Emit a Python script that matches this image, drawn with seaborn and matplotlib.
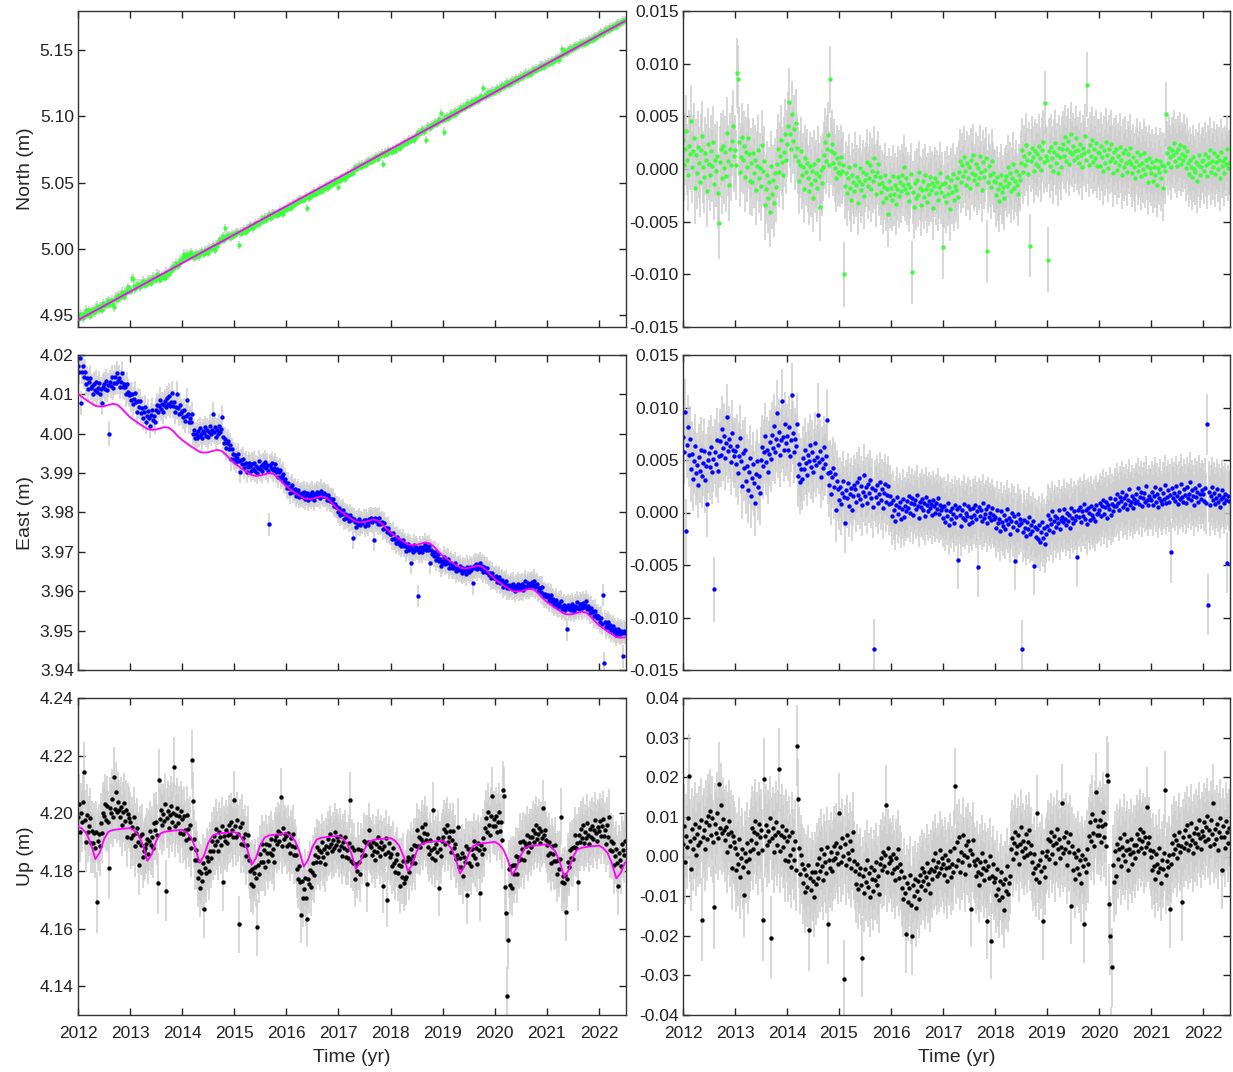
import numpy as np
import matplotlib
matplotlib.use("Agg")
import matplotlib.pyplot as plt
from matplotlib.ticker import FormatStrFormatter, MultipleLocator
import seaborn as sns

# ---------------------------------------------------------------
# Weekly position residuals (mm), 2012.0 ... 2022.5 (52 per year)
# ---------------------------------------------------------------
north_res_mm = [
    # 2012
    2.8, 0.4, 1.9, 3.6, 0.9, -0.6, 2.2, 1.4, 4.6, 0.2, 1.7, 2.9, -1.8,
    1.3, -0.4, 2.1, 0.6, -1.2, 1.8, 3.1, 0.2, -0.8, 1.5, 0.9, -2.1, 2.4, 0.5,
    -0.6, 1.7, 0.3, 2.6, -1.4, 0.9, -0.2, 1.2, -2.3, -5.1, 0.7, 1.9, -0.9,
    2.2, 0.1, 1.6, -0.7, 3.4, 0.8, -1.5, 1.9, 0.4, 2.7, 4.1, 1.2,
    # 2013
    1.8, 0.4, 9.1, 8.5, 2.6, -0.3, 1.1, 3.0, 0.9, 2.2, -0.8, 1.6, 0.2, 2.9, 1.4, -1.1,
    0.6, -1.2, 1.5, -0.4, 0.9, -2.0, 0.3, 1.8, -0.9, 0.1, -1.6, 2.3, -0.2, 0.8, -3.4,
    -1.9, -0.6, -2.8, -1.2, -4.1, 0.3, -2.4, -1.0, -3.2, -0.4, -1.7,
    0.5, 1.9, -0.3, 1.2, 2.8, 0.7, -0.6, 1.6, 3.3, 0.9,
    # 2014
    2.4, 4.1, 6.4, 3.3, 1.9, 5.2, 2.7, 3.8, 1.2, 4.4, 2.0,
    0.8, -1.1, 0.4, 1.7, -0.6, 0.2, -1.9, 1.0, -0.3, 0.6,
    -0.9, -2.1, 0.3, -1.4, -0.2, -2.8, 0.5, -1.0, -0.4, -1.8, 0.9, -0.7, -3.6, -0.1, -1.3, 0.2,
    1.3, 2.6, 0.8, 1.9, 3.2, 0.4, 8.5, 1.7, 2.4, 0.6, 1.5,
    0.1, -0.9, 1.0, -0.3,
    # 2015
    0.6, -0.5, 1.1, -0.2, 0.4, -10.0,
    -1.6, -0.4, -2.3, -0.9, 0.2, -1.8, -2.9, -0.6, -1.2, -2.1, 0.4, -1.5, -0.8, -3.2, -1.1,
    0.1, -2.0, -1.4, -0.3, -2.6, -1.0,
    -0.5, 0.7, -1.6, -0.9, 0.4, -1.9, -0.2, -1.1, 1.0, -0.7, -2.4, -0.3, 0.5, -1.4, -0.8,
    -2.2, -1.3, -3.1, -1.7, -0.6, -2.8, -1.9, -4.3, -1.1, -2.5,
    # 2016
    -1.8, -2.9, -0.7, -2.4, -1.5, -3.3, -1.9, -0.8, -2.6, -1.2, -2.1,
    -0.6, -1.5, 0.2, -1.9, -0.9,
    -2.3, -1.4, -3.0, -1.7, -0.5, -9.8, -2.2, -3.6, -1.3, -2.8, -1.0, -2.5, -0.3, -1.8,
    -3.4, -2.0, -1.1, -2.7, -0.6, -1.9, -3.1, -1.5, -2.4, -0.8, -2.0, -1.3, -3.7, -1.6,
    -0.9, -2.3, -1.2, -2.9, -1.7, -0.4, -2.2, -1.4,
    # 2017
    -7.4, -2.6, -1.3, -3.1, -0.8, -2.4, -1.7, -3.8, -1.0, -2.2, -0.5, -2.9, -1.6, -2.0, -0.9, -2.7,
    -0.3, 0.8, -1.2, 0.4, -0.7, 1.1, -0.2, -1.5, 0.6, -0.9, 0.2, -1.8, 0.9, -0.4, 1.3, -1.0,
    -0.6, 0.5, -1.4, 0.1, -0.9, 1.2, -0.3, -2.0, 0.7, -0.8, -0.1, 1.0, -7.8, -1.2, 0.3, -0.6,
    -1.7, 0.8, -0.4, -1.1,
    # 2018
    -1.2, -2.5, -0.8, -1.9, -3.0, -1.4, -0.6, -2.2, -1.7, -2.8, -1.0,
    -0.7, -1.6, 0.2, -1.3, -0.4, -2.1, -0.9, 0.5, -1.8, -1.1, -0.2, -1.5, -2.4, -0.6, -1.0,
    0.6, 1.8, -0.3, 1.2, 0.4, 2.3, 0.9, -0.5, 1.5, -7.3, 0.8, 2.0, 1.1, -0.2, 1.7, 0.5,
    1.4, 0.3, 2.2, 1.0, -0.1, 1.8, 2.6, 0.7, 6.3, 1.2,
    # 2019
    0.9, -8.6, 1.7, 0.3, 2.1, 1.0, -0.2, 1.6, 2.5, 0.6, 1.3, -0.4, 2.0, 1.1, 0.2, 1.9,
    2.4, 1.2, 3.0, 0.8, 1.9, 2.7, 0.5, 1.6, 3.3, 1.4, 2.2, 0.9, 1.7, 2.9, 1.1,
    1.8, 0.6, 2.4, 1.3, 0.2, 2.0, 1.5, 3.1, 0.9, 8.0, 1.7, 0.4, 2.3, 1.2, 2.8, 0.7,
    1.9, 1.0, 2.5, 0.3, 1.6,
    # 2020
    1.5, 0.3, 2.2, 1.1, -0.2, 1.8, 0.6, 2.6, 1.3, 0.1, 1.9, 0.8, 2.4, 1.0, -0.4, 1.6,
    0.7, 1.9, -0.1, 1.2, 0.4, 2.1, 0.9, -0.6, 1.5, 0.2, 1.8, 0.6, -0.3, 1.4, 0.8, 2.0,
    0.5, -0.4, 1.1, 0.2, -0.9, 0.8, 1.6, -0.2, 0.4, 1.3, -0.7, 0.6, 0.0, 1.5, -0.5, 0.9,
    0.3, -1.2, 1.0, 0.1,
    # 2021
    -0.4, 0.7, -1.1, 0.2, -0.6, 0.9, -1.5, 0.1, -0.3, 0.8, -0.9, 0.4, -1.8, 0.3, -0.2, 5.2,
    1.5, 0.6, 2.0, 1.1, 0.2, 1.8, 1.3, 2.5, 0.8, 1.6, 0.3, 1.9, 1.0, 2.3, 0.5, 1.4, 0.9,
    2.1, 1.2, 0.1, 1.7,
    0.6, -0.5, 0.9, 0.2, -0.8, 1.1, 0.0, -0.3, 0.7, -1.1, 0.4, 1.3, -0.6, 0.2, 0.8,
    # 2022 (to mid-year)
    0.9, -0.2, 1.4, 0.4, -0.7, 1.1, 0.6, 1.8, -0.3, 0.8, 0.2, 1.5, -0.5, 0.7, 1.2, 0.0,
    0.9, -0.9, 1.6, 0.3, 0.8, -0.4, 1.0, 0.5, 1.9, 0.1, 0.6,
]

east_res_mm = [
    # 2012
    7.2, 5.8, 9.6, -1.8, 6.4, 8.1, 5.5, 7.0,
    4.1, 5.6, 3.2, 4.9, 6.3, 3.8, 4.5, 2.6, 5.3, 4.0, 6.0, 3.5, 4.7, 5.9, 3.1, 4.4, 0.8, 5.0,
    5.7, 4.3, 6.2, 3.9, 5.1, -7.3, 5.8, 4.6, 6.9, 4.0, 5.4,
    6.8, 5.5, 8.0, 6.1, 7.3, 5.2, 6.6, 9.1, 5.9, 7.0, 6.3, 4.8, 7.6, 6.0, 5.4,
    # 2013
    5.9, 4.6, 6.3, 3.8, 5.4, 7.1, 4.9, 2.5, 5.7, 4.2, 6.0,
    3.0, 4.4, 2.1, 3.9, 5.2, 1.6, 3.3, 4.6, 2.8, 0.9, 3.7, 4.9, 2.4, 3.5, 1.9,
    5.0, 6.2, 4.4, 5.8, 7.3, 4.8, 6.0, 3.9, 5.6, 6.7, 5.1,
    7.4, 6.1, 8.2, 5.8, 7.0, 9.5, 6.4, 7.7, 5.5, 6.9, 10.6, 7.2, 6.0, 8.4, 6.6,
    # 2014
    7.3, 6.0, 8.1, 5.4, 6.9, 11.2, 7.6, 5.8, 7.0, 6.3, 8.4,
    3.5, 4.6, 2.9, 4.1, 3.2,
    5.2, 4.1, 6.0, 4.7, 3.6, 5.5, 4.9, 6.4, 4.3, 5.8, 3.9, 5.0, 6.6, 4.5, 5.3, 9.3,
    4.8, 5.9, 3.4, 5.1, 4.2, 6.2, 4.6, 5.4, 8.8, 3.8,
    2.6, 3.9, 1.8, 3.4, 4.2, 2.4, 3.7, 0.2, 3.0, 2.2,
    # 2015
    1.2, 2.4, 0.8, 1.9, 3.0, 1.5, -1.0, 2.1, 1.4, 2.8, 0.6, 1.8, 2.3, 0.2, 1.6, 2.6,
    2.2, 1.0, 2.9, 1.7, 3.3, 1.3, 2.5, 0.7, 2.0, 3.6, 1.6, 2.4, 0.9, 2.7, 1.9, 3.1,
    1.4, 2.3, 0.5, -13.0, 2.1,
    1.5, 2.6, 0.9, 1.8, 2.9, 1.2, 2.2, 0.4, 1.9, 2.7, 1.0, 1.7, 2.5, 0.8, 1.6,
    # 2016
    0.9, -0.3, 1.2, 0.2, -0.8, 0.7, 1.5, -0.1, 0.5, 1.0, -0.6, 0.3, 1.3, -0.4, 0.6, 0.1,
    1.1, 0.4, 1.6, 0.0, 0.9, 1.4, -0.2, 0.8, 1.2, 0.3, 1.7, 0.6, -0.5, 1.0, 0.5, 1.3,
    0.2, 0.9, -0.3, 1.5, 0.7, 0.1, 1.1, 0.4, 0.8, -0.2, 1.2, 0.6, 0.0, 0.9, 0.3, 1.4,
    -0.1, 0.7, 0.2, 0.5,
    # 2017
    -0.5, 0.6, -0.9, 0.2, -0.3, 0.9, -1.2, 0.1, -0.6, 0.4, -0.1, -1.0, 0.7, -0.4, 0.3, -4.5,
    0.5, -0.2, -1.3, 0.2, -0.5, 0.8, -0.7, 0.0, -0.3, 0.6, -1.1, 0.3, -0.4, -0.9, 0.4, -0.2,
    0.7, -0.6, 0.1, -5.2, 0.5, -0.3, 0.2, -0.8, 0.9, -0.5, -0.1, 0.3, -1.0, 0.6, -0.4, 0.0,
    -0.7, 0.4, -0.2, -0.6,
    # 2018
    -0.4, -1.5, 0.2, -1.0, -0.6, -1.8, 0.1, -0.9, -1.3, -0.2, -1.6, -0.7, 0.3, -1.1, -0.5, -2.0,
    -0.8, 0.0, -1.4, -0.3, -4.6, -0.9, -1.7, -0.1, -1.2, -0.6,
    -1.0, -13.0, -1.9, -0.7, -1.5, -2.2, -0.9, -1.6, -0.4, -2.0, -1.2, -1.8, -0.8, -5.1, -1.4, -2.3,
    -1.6, -2.5, -1.2, -2.8, -1.9, -0.9, -2.4, -1.5, -3.0, -2.0,
    # 2019
    -1.3, -0.2, -1.7, -0.6, -1.1, 0.1, -1.9, -0.8, -0.3, -1.4, -0.5, -1.0, 0.2, -1.6, -0.7, -0.4,
    -0.9, 0.3, -0.6, -1.2, 0.0, -0.8, -0.2, -1.5, 0.4, -0.5, -1.0, 0.1, -0.7, -0.3, -4.2, 0.2,
    -0.4, 0.5, -0.9, 0.1, -0.3, 0.8, -0.6, 0.2, -1.1, 0.4, 0.0, -0.7, 0.6, -0.2, -0.5, 0.3,
    -0.8, 0.7, -0.1, 0.0,
    # 2020
    0.2, 0.9, -0.3, 0.6, 1.2, -0.1, 0.5, 1.0, -0.5, 0.7, 0.3, 1.4, -0.2, 0.8, 0.1, 0.6,
    1.3, 0.6, 1.8, 0.9, 0.2, 1.5, 1.1, 2.0, 0.5, 1.4, 0.8, 1.7, 0.3, 1.2, 2.2, 0.7,
    1.0, 1.6, 0.4, 1.3, 0.9,
    1.8, 1.1, 2.3, 0.8, 1.5, 2.0, 0.6, 1.4, 1.9, 1.0, 2.5, 1.2, 0.7, 1.6, 1.3,
    # 2021
    1.2, 2.0, 0.7, 1.6, 2.4, 1.0, 1.8, 0.5, 1.4, 2.2, 1.1, 0.8, 1.9, 1.3, 2.6, 0.9,
    1.5, 2.1, 1.0, 1.7, -3.8, 2.3, 1.4, 1.9, 1.1, 2.5, 1.6, 0.8, 2.0, 1.3, 2.7, 1.5,
    1.0, 2.2, 1.7, 0.9, 2.4, 1.4, 1.8, 2.9, 1.2, 2.1, 1.6, 0.7, 2.3, 1.5, 2.0, 1.0,
    2.6, 1.8, 1.3, 2.1,
    # 2022 (to mid-year)
    1.8, 1.1, 2.3, 0.9, 8.4, -8.8, 2.0, 0.7, 1.6, 2.4, 1.2, 1.9, 0.8, 1.4, 2.2, 1.0,
    1.7, 0.5, 1.3, 2.1, 1.5, 0.9, 1.8, 1.2, -4.8, 1.6, 1.1,
]

up_res_mm = [
    # 2012
    3.1, 7.8, -1.5, 5.2, 2.4, 9.6, 20.3, 4.0, -3.2, 6.9, 1.8, 4.7, 8.3, 0.5, 5.6, 2.9,
    7.4, 3.6, 9.2, -15.9, 5.0, 6.8, 1.9, 8.7, 4.4, 10.3,
    7.9, 11.6, 5.3, 9.8, 3.7, -12.8, 8.1, 6.0, 10.9, 4.6, 18.4, 7.2, 13.0, 5.9, 9.4, 6.6,
    4.1, 7.5, 1.2, 5.8, 8.9, 2.7, 6.3, -3.0, 5.1, 3.6,
    # 2013
    2.1, -3.4, 0.6, -1.9, 4.5, -5.2, -0.3, 1.8, -2.7, -9.8, 0.9, -1.2, 3.3, -4.0, -0.6, 1.5,
    4.2, 7.3, 2.0, 6.1, 9.0, 3.5, 5.7, 0.8, 8.2, 4.9, 6.6, 1.6, -15.9, 19.5, 5.1, 7.9,
    2.8, 6.4, 3.9, 9.7, -20.5, 4.6, 7.1, 1.2, 5.5, 8.6,
    3.0, 6.2, 22.0, 1.4, 5.3, 7.8, 2.5, 4.9, -1.0, 6.6,
    # 2014
    3.8, -1.2, 5.1, 0.4, -2.7, 6.2, 1.9, -0.8, 4.0, -3.5, 28.0, 14.5, 2.2, -4.4, 0.3, -1.9,
    -6.8, -3.1, -9.0, -4.6, -7.7, -2.2, -18.6, -5.5, -8.4, -3.9, -6.1, -10.2, -4.0, -7.0, -1.8, -5.3,
    -0.4, -3.7, 1.8, -2.5, -5.9, 0.6, -1.3, -4.1, 2.4, -17.0, -0.9, -2.8, 1.1, -3.6, -1.0,
    2.6, -0.5, 3.4, 0.9, -1.8,
    # 2015
    11.0, 2.3, -1.4, 4.6, 0.2, -31.0, 3.1, -2.2, 5.4, 0.9, -0.7, 3.8, -3.0, 1.6, 6.2, -1.1,
    -3.6, -6.9, -1.8, -8.2, -4.4, -2.9, -7.3, -25.5, -5.0, -9.1, -3.2, -6.4, -0.9, -7.8, -4.1, -10.3,
    -2.6, -5.7, -8.6, -3.4, -6.0, -1.5, -7.1, -4.8, -9.4, -2.0,
    -0.5, -3.3, 1.2, -2.4, 0.3, 13.0, -4.0, 2.1, -1.7, -0.2,
    # 2016
    -1.0, -4.2, 0.6, -3.1, -6.0, -0.4, -2.7, 1.9, -5.3, -1.8, -3.6,
    -7.9, -10.6, -5.2, -9.3, -19.5, -6.8, -11.4, -8.0, -4.7, -12.2, -20.0, -7.1, -9.9, -5.8, -13.0,
    -8.6, -6.3, -10.8,
    -4.6, -7.5, -2.8, -6.2, -3.9, -8.4, -5.1, -1.7, -6.9, -4.0, -9.3, -3.2, -5.6, -0.8, -3.7, 0.9,
    -2.6, -5.0, -1.4, -4.2, 1.6, -2.9, -0.3,
    # 2017
    -1.8, -4.6, 0.4, -3.0, -6.2, -0.9, -2.7, 1.5, -5.1, -2.0, -3.8,
    2.1, 17.9, -2.4, 3.6, -0.8, 4.8, -3.9, 1.2, -1.5, 5.4, 0.3, -4.4, 2.8, -0.2, 3.9, -2.1,
    1.7, -13.3, 0.6, 4.2, -1.2,
    -2.2, -5.0, -0.6, -3.9, -7.1, -1.5, -4.3, 0.8, -2.8, -6.0, -1.1, -3.5, -16.2, -2.4, -5.4, 0.2,
    -21.3, -4.8, -1.8, -6.5,
    # 2018
    -5.4, -9.6, -3.2, -8.1, -11.0, -6.3, -4.0, -10.2, -7.0, -13.5, -5.8, -8.8, -2.5, -9.4, -6.6, -4.9,
    1.8, 4.7, -0.6, 3.5, 6.2, 0.9, 2.7, 5.3, -1.8, 3.1, 7.4, 1.4, 4.0, -0.2, 2.2, 5.8,
    0.5, 3.7, 6.6, 1.0, 2.9,
    -1.5, -4.2, 0.7, -3.0, -5.6, 11.0, -2.1, -6.4, -0.8, -3.7, 1.2, -16.4, -2.6, -5.2, 0.1,
    # 2019
    1.4, 4.5, -0.7, 3.8, 6.1, 0.6, 2.9, 5.2, -1.6, 3.3, 7.0, 1.9, 4.4, -0.3, 2.5, 13.5,
    0.8, 4.9, 2.0, 6.3, -2.2, 3.6, 1.1, 5.7, -12.4, 2.7,
    -3.3, 0.9, -5.6, -0.2, -2.8, 1.6, -4.5, -1.0, -6.7, 0.4, -2.3, -17.0, -0.6, -3.9, 1.9, -2.0,
    5.1, 8.6, 3.9, 10.8, 6.0, 2.7, 9.3, 16.2, 5.5, 7.8,
    # 2020
    5.4, 9.1, 3.7, 7.6, 11.2, 4.8, 8.3, 2.6, 20.5, 19.0,
    -12.0, -20.0, -48.0, -28.0, -2.1, -6.5, 1.4, -4.8,
    3.2, -0.7, 1.9, 4.6, -2.3, 2.5, 0.3, 5.8, -1.1, 1.6, 3.9, -3.4, 2.0, 0.6, 4.4, -1.8,
    1.2, 3.0, -0.4,
    2.9, 5.6, 1.4, 4.3, 7.0, 2.2, 3.8, 6.1, 0.8, 4.9, 2.4, 12.6, 3.5, 5.0, 1.7,
    # 2021
    -0.2, -3.5, 1.3, -2.4, -5.8, 0.6, -1.9, -4.0, 2.1, -2.9, -6.6, -0.8, -3.1, 1.0, 16.9, -4.7,
    -1.2, -2.6, 0.4, -13.2, -2.0,
    3.4, 0.7, 5.5, 1.8, 4.2, -0.5, 3.0, 6.3, 1.2, 2.6, -11.5,
    4.8, 2.1, 6.6, 3.5, 7.9, 1.6, 5.2, 3.0, 8.4, 4.1, 0.9, 6.0, 3.3, 7.2, 2.4, 5.7,
    9.1, 4.6, 1.8, 6.4,
    # 2022 (to mid-year)
    5.2, 8.7, 3.9, 7.4, 10.1, 4.5, 6.8, 2.6, 9.3, 5.8, 13.6, 3.1, 7.0, 4.4, 8.2, 1.7,
    6.3, 9.8, 4.9, -3.5, 7.6, 5.0, 2.2, 8.9, 6.1, 3.4, 7.3,
]

# Formal 1-sigma errors per calendar year 2012..2022 (mm)
north_sig_mm = [3.4, 3.3, 3.2, 3.1, 3.0, 3.0, 3.0, 3.1, 3.2, 3.1, 3.1]
east_sig_mm = [3.1, 3.1, 3.0, 2.9, 2.8, 2.8, 2.8, 2.9, 2.9, 2.9, 2.9]
up_sig_mm = [10.5, 10.5, 10.2, 10.0, 9.8, 9.6, 9.6, 9.8, 10.0, 9.8, 9.8]

# ---------------------------------------------------------------
# Fitted trajectory models
# ---------------------------------------------------------------
north_model_yr = [2012, 2013, 2014, 2015, 2016, 2017, 2018, 2019, 2020, 2021, 2022, 2022.5]
north_model_m = [4.9462, 4.9677, 4.9892, 5.0107, 5.0322, 5.0537, 5.0752,
                 5.0967, 5.1182, 5.1397, 5.1612, 5.1719]

# monthly, mm above 4.000 m
east_model_mm = [
    10.1, 9.3, 8.5, 7.8, 7.1, 6.9, 7.0, 7.3, 7.6, 7.4, 6.5, 5.3,
    4.2, 3.4, 2.6, 1.9, 1.2, 1.0, 1.1, 1.4, 1.7, 1.5, 0.6, -0.6,
    -1.6, -2.4, -3.2, -3.9, -4.6, -4.8, -4.7, -4.4, -4.1, -4.3, -5.2, -6.4,
    -7.5, -8.3, -9.1, -9.8, -10.5, -10.7, -10.6, -10.3, -10.0, -10.2, -11.1, -12.3,
    -13.4, -14.2, -15.0, -15.7, -16.4, -16.6, -16.5, -16.2, -15.9, -16.1, -17.0, -18.2,
    -19.3, -20.1, -20.9, -21.6, -22.3, -22.5, -22.4, -22.1, -21.8, -22.0, -22.9, -24.1,
    -25.1, -25.9, -26.7, -27.4, -28.1, -28.3, -28.2, -27.9, -27.6, -27.8, -28.7, -29.9,
    -31.0, -31.8, -32.6, -33.3, -34.0, -34.2, -34.1, -33.8, -33.5, -33.7, -34.6, -35.8,
    -36.9, -37.7, -38.5, -39.2, -39.9, -40.1, -40.0, -39.7, -39.4, -39.6, -40.5, -41.7,
    -42.7, -43.5, -44.3, -45.0, -45.7, -45.9, -45.8, -45.5, -45.2, -45.4, -46.3, -47.5,
    -48.6, -49.4, -50.2, -50.9, -51.6, -51.8, -51.7,
]

# monthly, mm relative to 4.190 m
up_model_mm = [
    5.5, 4.6, 2.9, -0.7, -5.9, -3.6, 1.0, 3.6, 4.2, 4.4, 4.6, 4.7,
    4.9, 4.0, 2.3, -1.3, -6.5, -4.2, 0.4, 3.0, 3.6, 3.8, 4.0, 4.1,
    4.3, 3.4, 1.7, -1.9, -7.2, -4.8, -0.3, 2.2, 2.9, 3.1, 3.2, 3.4,
    3.5, 2.7, 0.9, -2.6, -7.9, -5.5, -1.0, 1.6, 2.3, 2.5, 2.7, 2.8,
    3.0, 2.1, 0.4, -3.2, -8.5, -6.2, -1.7, 0.9, 1.5, 1.7, 1.9, 2.0,
    2.1, 1.2, -0.5, -4.1, -9.3, -7.0, -2.5, 0.1, 0.7, 1.0, 1.1, 1.3,
    1.4, 0.5, -1.3, -4.9, -10.1, -7.8, -3.3, -0.8, -0.2, 0.1, 0.2, 0.3,
    0.4, -0.4, -2.2, -5.7, -10.9, -8.5, -4.0, -1.4, -0.7, -0.4, -0.3, -0.1,
    0.1, -0.8, -2.6, -6.1, -11.4, -9.1, -4.6, -2.0, -1.4, -1.2, -1.1, -0.9,
    -0.8, -1.6, -3.4, -6.9, -12.1, -9.8, -5.2, -2.6, -2.0, -1.7, -1.5, -1.4,
    -1.2, -2.1, -3.8, -7.4, -12.6, -10.8, -7.0,
]

# ---------------------------------------------------------------
# Assemble series
# ---------------------------------------------------------------
t_week = 2012 + np.arange(len(north_res_mm)) / 52.0
t_month = 2012 + np.arange(len(east_model_mm)) / 12.0
year_idx = np.minimum((t_week - 2012).astype(int), 10)

res_n = np.array(north_res_mm) / 1000.0
res_e = np.array(east_res_mm) / 1000.0
res_u = np.array(up_res_mm) / 1000.0
sig_n = np.array(north_sig_mm)[year_idx] / 1000.0
sig_e = np.array(east_sig_mm)[year_idx] / 1000.0
sig_u = np.array(up_sig_mm)[year_idx] / 1000.0

east_model = 4.000 + np.array(east_model_mm) / 1000.0
up_model = 4.190 + np.array(up_model_mm) / 1000.0

obs_n = np.interp(t_week, north_model_yr, north_model_m) + res_n
obs_e = np.interp(t_week, t_month, east_model) + res_e
obs_u = np.interp(t_week, t_month, up_model) + res_u

# ---------------------------------------------------------------
# Styling
# ---------------------------------------------------------------
sns.set_theme(style="ticks")
plt.rcParams["font.family"] = ["Liberation Sans", "DejaVu Sans"]
plt.rcParams["axes.unicode_minus"] = False

GREEN = "#3cff3c"
BLUE = "#0000ff"
BLACK = "#000000"
MAGENTA = "#ff00ff"
BAR = "#cdcdcd"

W, H = 1233, 1072
fig = plt.figure(figsize=(W / 100, H / 100), dpi=100)

left_x, right_x = 78 / W, 683 / W
left_w, right_w = 548 / W, 547 / W
rows = [(11, 327), (355, 670), (698, 1015)]


def make_ax(x0, w, row):
    top, bot = row
    return fig.add_axes([x0, 1 - bot / H, w, (bot - top) / H])


def draw(ax, t, y, s, color, mt=None, my=None):
    ax.vlines(t, y - s, y + s, colors=BAR, linewidth=1.1, zorder=1)
    sns.scatterplot(x=t, y=y, ax=ax, color=color, s=10, linewidth=0,
                    zorder=2, legend=False)
    if mt is not None:
        sns.lineplot(x=mt, y=my, ax=ax, color=MAGENTA, linewidth=1.3,
                     sort=False, estimator=None, zorder=3)


def style(ax, ylim, ystep, fmt, xlabels):
    ax.set_xlim(2012, 2022.52)
    ax.set_ylim(*ylim)
    ax.xaxis.set_major_locator(MultipleLocator(1))
    ax.yaxis.set_major_locator(MultipleLocator(ystep))
    ax.yaxis.set_major_formatter(FormatStrFormatter(fmt))
    ax.tick_params(direction="in", top=True, right=True, length=5, width=1,
                   labelsize=12.5, colors="#222222")
    ax.tick_params(axis="y", pad=3)
    ax.tick_params(axis="x", pad=8)
    for sp in ax.spines.values():
        sp.set_color("#333333")
        sp.set_linewidth(1.0)
    if xlabels:
        ax.set_xlabel("Time (yr)", fontsize=14, labelpad=6)
    else:
        ax.tick_params(labelbottom=False)
        ax.set_xlabel("")
    ax.set_ylabel("")


# North
ax = make_ax(left_x, left_w, rows[0])
draw(ax, t_week, obs_n, sig_n, GREEN, north_model_yr, north_model_m)
style(ax, (4.941, 5.1795), 0.05, "%.2f", False)
ax.set_ylabel("North (m)", fontsize=14)

ax = make_ax(right_x, right_w, rows[0])
draw(ax, t_week, res_n, sig_n, GREEN)
style(ax, (-0.015, 0.015), 0.005, "%.3f", False)

# East
ax = make_ax(left_x, left_w, rows[1])
draw(ax, t_week, obs_e, sig_e, BLUE, t_month, east_model)
style(ax, (3.94, 4.02), 0.01, "%.2f", False)
ax.set_ylabel("East (m)", fontsize=14)

ax = make_ax(right_x, right_w, rows[1])
draw(ax, t_week, res_e, sig_e, BLUE)
style(ax, (-0.015, 0.015), 0.005, "%.3f", False)

# Up
ax = make_ax(left_x, left_w, rows[2])
draw(ax, t_week, obs_u, sig_u, BLACK, t_month, up_model)
style(ax, (4.13, 4.24), 0.02, "%.2f", True)
ax.set_ylabel("Up (m)", fontsize=14)

ax = make_ax(right_x, right_w, rows[2])
draw(ax, t_week, res_u, sig_u, BLACK)
style(ax, (-0.04, 0.04), 0.01, "%.2f", True)

fig.savefig("out.png", dpi=100)
